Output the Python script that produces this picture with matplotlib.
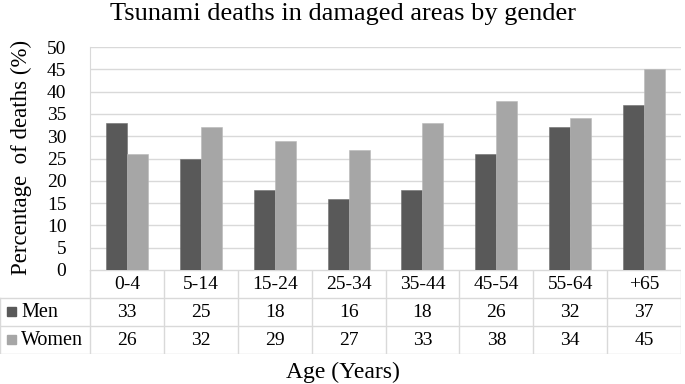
import numpy as np
import matplotlib.pyplot as plt
from matplotlib.patches import Rectangle

ages = ["0-4", "5-14", "15-24", "25-34", "35-44", "45-54", "55-64", "+65"]
men = [33, 25, 18, 16, 18, 26, 32, 37]
women = [26, 32, 29, 27, 33, 38, 34, 45]
series = ["Men", "Women"]
colors = ["#595959", "#a6a6a6"]
grid_col = "#d9d9d9"

plt.rcParams["font.family"] = ["Liberation Serif", "DejaVu Serif"]

W, H = 685, 384
fig = plt.figure(figsize=(W / 100, H / 100), dpi=100)

# plot area in pixels
px_l, px_r, px_top, px_bot = 90, 681, 47, 270
ax = fig.add_axes([px_l / W, 1 - px_bot / H, (px_r - px_l) / W, (px_bot - px_top) / H])

x = np.arange(len(ages))
w = 0.285
ax.bar(x - w / 2, men, w, color=colors[0], edgecolor="#6e6e6e", linewidth=0.4, zorder=3)
ax.bar(x + w / 2, women, w, color=colors[1], edgecolor="#b8b8b8", linewidth=0.4, zorder=3)

ax.set_xlim(-0.5, len(ages) - 0.5)
ax.set_ylim(0, 50)
ax.set_yticks(np.arange(0, 51, 5))
ax.tick_params(axis="y", length=0, labelsize=14, pad=17)
ax.set_xticks([])
ax.yaxis.grid(True, color=grid_col, linewidth=1.0, zorder=0)
for s in ["top", "right", "bottom"]:
    ax.spines[s].set_visible(False)
ax.spines["left"].set_color(grid_col)
ax.set_ylabel("Percentage  of deaths (%)", fontsize=16.5)
ax.yaxis.set_label_coords(-0.098, 0.507)

fig.text(0.5, 1 - 14 / H, "Tsunami deaths in damaged areas by gender",
         ha="center", va="center", fontsize=19)

# data table below the plot
tb_top, tb_bot = 270, 354
leg_w = (px_l - 0) / ((px_r - px_l) / len(ages))
tax = fig.add_axes([0, 1 - tb_bot / H, px_r / W, (tb_bot - tb_top) / H])
tax.set_xlim(-0.5 - leg_w, len(ages) - 0.5)
tax.set_ylim(3, 0)
tax.axis("off")

rows = [men, women]
# horizontal lines
tax.plot([-0.5, len(ages) - 0.5], [0, 0], color=grid_col, lw=1.0)
for r in [1, 2, 3]:
    tax.plot([-0.5 - leg_w, len(ages) - 0.5], [r, r], color=grid_col, lw=1.0)
# vertical lines
tax.plot([-0.5 - leg_w, -0.5 - leg_w], [1, 3], color=grid_col, lw=1.0)
for c in range(len(ages) + 1):
    tax.plot([c - 0.5, c - 0.5], [0, 3], color=grid_col, lw=1.0)

for i, a in enumerate(ages):
    tax.text(i, 0.52, a, ha="center", va="center", fontsize=14)
    for r, vals in enumerate(rows):
        tax.text(i, r + 1.52, str(vals[i]), ha="center", va="center", fontsize=14)

sq = 9 / 74
for r, (name, c) in enumerate(zip(series, colors)):
    x0 = -0.5 - leg_w + 7 / 74
    tax.add_patch(Rectangle((x0, r + 1.5 - 0.17), sq, 0.33, color=c))
    tax.text(x0 + sq + 5 / 74, r + 1.52, name, ha="left", va="center", fontsize=14.5)

fig.text(0.5, 1 - 372 / H, "Age (Years)", ha="center", va="center", fontsize=17)

fig.savefig("out.png", dpi=100)
